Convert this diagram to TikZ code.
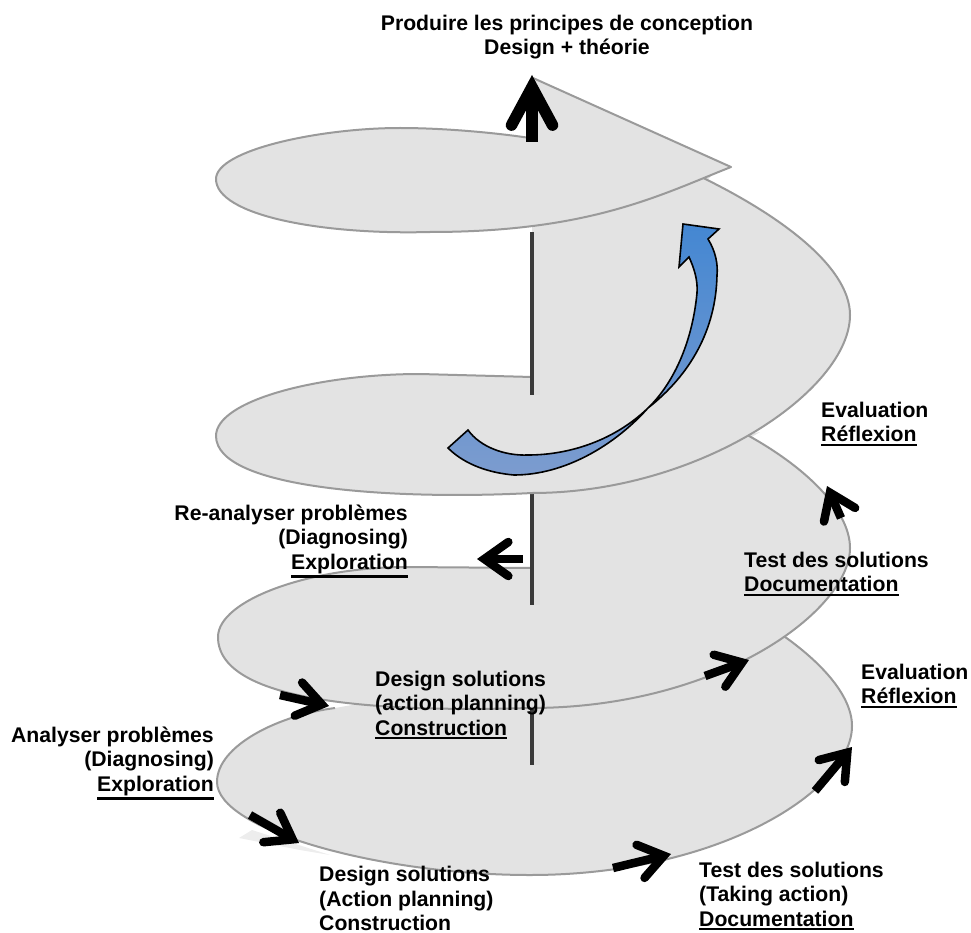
\documentclass[tikz,border=0pt]{standalone}
\usepackage{fontspec}
\setmainfont{Liberation Sans}
\usetikzlibrary{arrows.meta}
\definecolor{disk}{HTML}{E3E3E3}
\definecolor{edgec}{HTML}{9A9A9A}
\definecolor{bluetop}{HTML}{4487D2}
\definecolor{bluemid}{HTML}{6AA8EE}
\definecolor{bluelow}{HTML}{7C9CCF}
\newcommand\ulbar[1]{\leavevmode\vtop{\hbox{#1}\kern1.6pt\hrule height 2.3pt}}
\tikzset{
  edge/.style={draw=edgec,line width=2pt,fill=disk,line join=round},
  pole/.style={draw=black!78,line width=3.2pt},
  poleshade/.style={draw=black!12,line width=7pt},
  bigarrow/.style={line width=8.5pt,-{Straight Barb[length=24pt,width=34pt,line cap=round,line join=miter]}},
  toparrow/.style={line width=11.5pt,-{Straight Barb[length=38pt,width=41pt,line cap=round,line join=miter]}},
  lbl/.style={font=\fontsize{21.2}{24.6}\selectfont\bfseries,inner sep=0pt,text=black},
  lblr/.style={lbl,align=right,anchor=east},
  lbll/.style={lbl,align=left,anchor=west},
}
\begin{document}
\begin{tikzpicture}[x=1pt,y=-1pt]
\useasboundingbox (0,0) rectangle (971,933);
% faint trace under the bottom turn
\fill[black!7] (239,838) -- (252,830) -- (330,855) -- (300,850) -- cycle;
% bottom turn
\draw[edge] (775,630) .. controls (820,660) and (852,695) .. (852,726)
  .. controls (852,790) and (720,875) .. (530,875)
  .. controls (380,875) and (217,830) .. (217,782)
  .. controls (217,745) and (280,715) .. (335,708);
\draw[poleshade] (536,708) -- (536,765);
\draw[pole] (532,708) -- (532,765);
\draw[black!11,line width=1pt] (530,770) -- (530,873);
% middle turn
\fill[disk] (532,480) -- (532,568) -- (760,432) -- cycle;
\draw[edge] (738,430) .. controls (805,465) and (850,510) .. (850,548)
  .. controls (850,610) and (720,708) .. (530,708)
  .. controls (390,712) and (218,705) .. (218,637)
  .. controls (218,600) and (310,567) .. (407,567) -- (532,568);
\draw[poleshade] (536,490) -- (536,605);
\draw[pole] (532,490) -- (532,605);
% upper turn
\fill[disk] (532,222) -- (532,377) -- (712,175) -- cycle;
\draw[edge] (695,174) .. controls (775,212) and (850,265) .. (850,315)
  .. controls (850,390) and (700,493) .. (532,493)
  .. controls (400,500) and (216,490) .. (216,436)
  .. controls (216,400) and (320,374) .. (420,374) -- (532,377);
\draw[poleshade] (536,232) -- (536,395);
\draw[pole] (532,232) -- (532,395);
% top turn
\draw[edge] (533,78) -- (731,167) .. controls (660,195) and (590,232) .. (430,232)
  .. controls (320,235) and (216,215) .. (216,179)
  .. controls (216,150) and (320,128) .. (400,128)
  .. controls (440,128) and (490,132) .. (530,138);
% blue arrow
\draw[black,line width=1.6pt,line join=miter,top color=bluetop,middle color=bluemid,bottom color=bluelow]
  (468,430) .. controls (480,447) and (505,456) .. (528,455)
  .. controls (570,455) and (615,440) .. (648,408)
  .. controls (672,385) and (692,345) .. (697,293)
  .. controls (698,280) and (694,268) .. (689,257)
  -- (679,267) -- (683,224) -- (719,229) -- (708,239)
  .. controls (716,252) and (718,265) .. (717,275)
  .. controls (716,330) and (690,375) .. (648,408)
  .. controls (615,445) and (565,475) .. (514,475)
  .. controls (490,473) and (465,465) .. (448,448)
  -- cycle;
% black arrows
\coordinate (a1s) at (532,142); \coordinate (a1e) at (532,75);
\coordinate (a2s) at (523,559); \coordinate (a2e) at (477,559);
\coordinate (a3s) at (280,695); \coordinate (a3e) at (329,706);
\coordinate (a4s) at (250,815); \coordinate (a4e) at (299,843);
\coordinate (a5s) at (613,868); \coordinate (a5e) at (671,854);
\coordinate (a6s) at (815,791); \coordinate (a6e) at (852,747);
\coordinate (a7s) at (705,676); \coordinate (a7e) at (749,660);
\coordinate (a8s) at (841,518); \coordinate (a8e) at (827,486);
\draw[toparrow] (a1s) -- (a1e);
\foreach \i in {2,...,8} {\draw[bigarrow] (a\i s) -- (a\i e);}
% labels
\node[lbl,align=center] (title) at (567,37) {Produire les principes de conception\\Design + théorie};
\node[lblr] (reana) at (408,541) {Re-analyser problèmes\\(Diagnosing)\\\ulbar{Exploration}};
\node[lblr] (ana) at (214,763) {Analyser problèmes\\(Diagnosing)\\\ulbar{Exploration}};
\node[lbll] (desm) at (375,705) {Design solutions\\(action planning)\\\ulbar{Construction}};
\node[lbll] (desb) at (319,898.5) {Design solutions\\(Action planning)\\Construction};
\node[lbll] (testb) at (699,896) {Test des solutions\\(Taking action)\\\ulbar{Documentation}};
\node[lbll] (evb) at (861,686) {Evaluation\\\ulbar{Réflexion}};
\node[lbll] (testm) at (744,574) {Test des solutions\\\ulbar{Documentation}};
\node[lbll] (evt) at (821,424) {Evaluation\\\ulbar{Réflexion}};
\end{tikzpicture}
\end{document}
